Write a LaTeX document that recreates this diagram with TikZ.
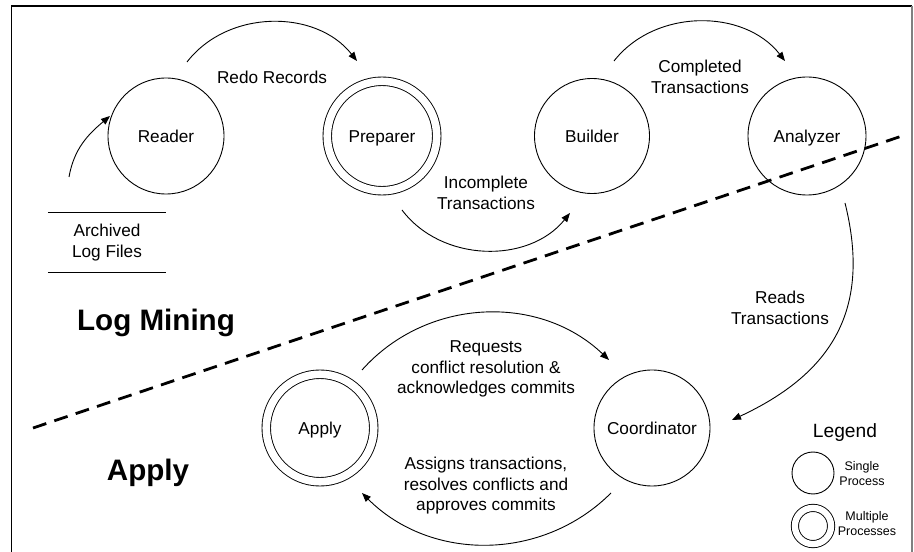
\documentclass[tikz,border=0pt]{standalone}
\usepackage{fontspec}
\setmainfont{Liberation Sans}
\usetikzlibrary{arrows.meta,calc}
\begin{document}
\begin{tikzpicture}[x=1pt,y=1pt,
  every node/.style={inner sep=0pt},
  proc/.style={circle,draw,line width=0.9pt,minimum size=#1,
    text height=12.3pt,text depth=0pt,
    font=\fontsize{17.2pt}{20.5pt}\selectfont},
  multiproc/.style={circle,draw,line width=0.9pt,double,double distance=#1},
  lbl/.style={align=center,font=\fontsize{17.2pt}{20.5pt}\selectfont},
  small/.style={align=center,font=\fontsize{12.5pt}{15pt}\selectfont},
  title/.style={font=\fontsize{29.6pt}{34pt}\selectfont\bfseries},
  flow/.style={line width=0.9pt,-{Triangle[length=9pt,width=7pt]}},
  divider/.style={line width=2.8pt,dash pattern=on 14pt off 8.5pt}
]
\useasboundingbox (0,0) rectangle (914,552);

% frame
\draw[line width=1.3pt] (11.5,0) -- (11.5,546) -- (912,546);
\draw[line width=2pt,gray] (912,546) -- (912,0);

% processes
\node[proc=116pt] (reader) at (166,416) {Reader};
\node[proc=109.5pt,multiproc=7.6pt] (preparer) at (382,416) {Preparer};
\node[proc=115pt] (builder) at (592,416) {Builder};
\node[proc=118pt] (analyzer) at (807,416) {Analyzer};
\node[proc=116pt] (coordinator) at (652,124) {Coordinator};
\node[proc=107.5pt,multiproc=7.6pt] (apply) at (320,124) {Apply};

% archived log files (data store)
\node[lbl,minimum width=118pt,minimum height=59pt] (archive) at (107,309.5)
  {Archived\\Log Files};
\draw[line width=0.9pt] (archive.north west) -- (archive.north east);
\draw[line width=0.9pt] (archive.south west) -- (archive.south east);
\coordinate (logsrc) at (69,375);

% data flows
\draw[flow] (logsrc) to[out=80,in=220] ($(reader)+(-56,20)$);
\draw[flow] ($(reader)+(21,74)$) to[bend left=52] ($(preparer)+(-25,75)$);
\draw[flow] ($(preparer)+(20,-74)$) to[bend right=52] ($(builder)+(-22,-77)$);
\draw[flow] ($(builder)+(22,75)$) to[bend left=52] ($(analyzer)+(-22,75)$);
\draw[flow] ($(analyzer)+(38,-67)$) to[out=-76,in=25,looseness=1.15] ($(coordinator)+(80,8)$);
\draw[flow] ($(apply)+(42,58)$) to[bend left=46] ($(coordinator)+(-43,68)$);
\draw[flow] ($(coordinator)+(-41,-65)$) to[bend left=45] ($(apply)+(42,-65)$);

% flow labels
\node[lbl] (lredo) at (272,475) {Redo Records};
\node[lbl] (lincomplete) at (486,359) {Incomplete\\Transactions};
\node[lbl] (lcompleted) at (700,475) {Completed\\Transactions};
\node[lbl] (lreads) at (780,244) {Reads\\Transactions};
\node[lbl] (lrequests) at (486,183)
  {Requests\\conflict resolution \&\\acknowledges commits};
\node[lbl] (lassigns) at (486,66)
  {Assigns transactions,\\resolves conflicts and\\approves commits};

% boundary between the two stages
\coordinate (divA) at (33,124);
\coordinate (divB) at (902,416);
\draw[divider] (divA) -- (divB);
\node[title] (tmining) at (156,229) {Log Mining};
\node[title] (tapply) at (148,79) {Apply};

% legend
\node[font=\fontsize{19.2pt}{22pt}\selectfont] (legend) at (845,119) {Legend};
\node[circle,draw,line width=0.9pt,minimum size=42pt] (lsingle) at (813,79) {};
\node[small] (lsingletext) at (862,78.5) {Single\\Process};
\node[circle,multiproc=6.3pt,minimum size=36.2pt] (lmulti) at (813,26) {};
\node[small] (lmultitext) at (867,28) {Multiple\\Processes};
\end{tikzpicture}
\end{document}
